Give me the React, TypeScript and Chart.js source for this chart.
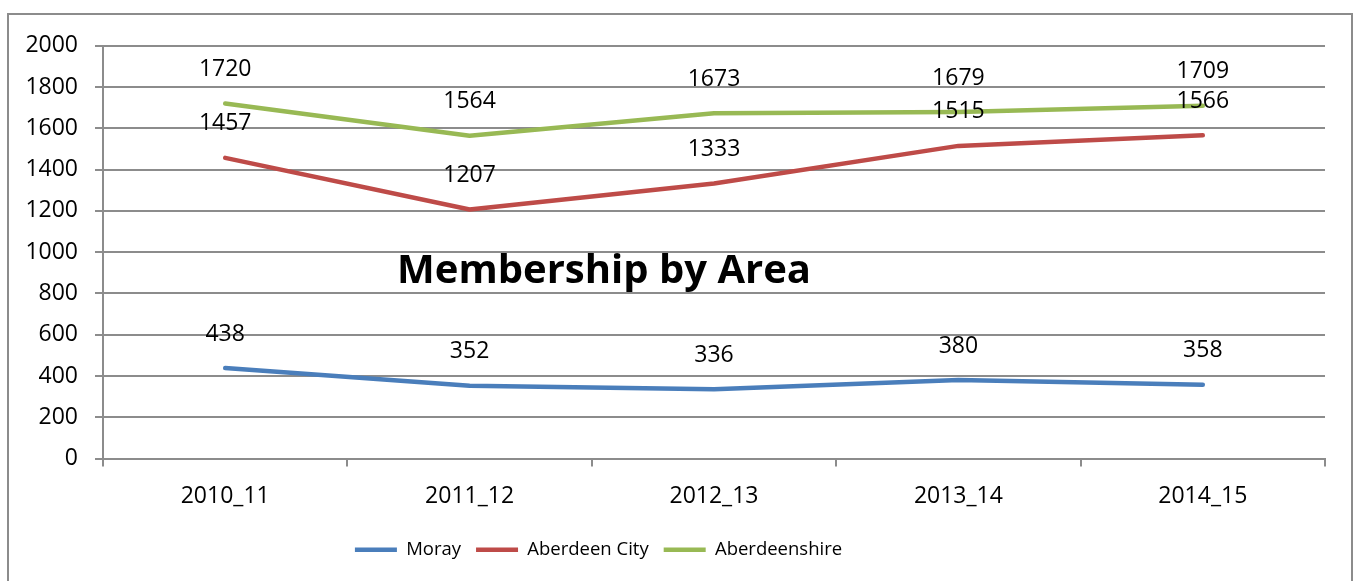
import React, { useEffect, useRef } from 'react';
import { Chart, registerables } from 'chart.js';

Chart.register(...registerables);

const categories = ['2010_11', '2011_12', '2012_13', '2013_14', '2014_15'];
const moray = [438, 352, 336, 380, 358];
const aberdeenCity = [1457, 1207, 1333, 1515, 1566];
const aberdeenshire = [1720, 1564, 1673, 1679, 1709];
const seriesNames = ['Moray', 'Aberdeen City', 'Aberdeenshire'];
const seriesColors = ['#4A7EBB', '#BE4B48', '#98B954'];
const yTickMin = 0;
const yTickMax = 2000;
const yTickStep = 200;
const chartTitle = 'Membership by Area';

const FONT = "'Open Sans', sans-serif";
const GRID = '#8c8c8c';

const titlePlugin = {
  id: 'innerTitle',
  afterDatasetsDraw(chart: any) {
    const { ctx, chartArea: ca } = chart;
    ctx.save();
    ctx.font = `bold 40px ${FONT}`;
    ctx.fillStyle = '#000';
    ctx.textAlign = 'center';
    ctx.textBaseline = 'middle';
    ctx.fillText(chartTitle, ca.left + 0.41 * (ca.right - ca.left), ca.top + 0.547 * (ca.bottom - ca.top));
    ctx.restore();
  },
};

const dataLabelPlugin = {
  id: 'dataLabels',
  afterDatasetsDraw(chart: any) {
    const { ctx } = chart;
    ctx.save();
    ctx.font = `23px ${FONT}`;
    ctx.fillStyle = '#000';
    ctx.textAlign = 'center';
    ctx.textBaseline = 'middle';
    chart.data.datasets.forEach((ds: any, i: number) => {
      const meta = chart.getDatasetMeta(i);
      meta.data.forEach((pt: any, j: number) => {
        ctx.fillText(String(ds.data[j]), pt.x, pt.y - 34);
      });
    });
    ctx.restore();
  },
};

const legendShiftPlugin = {
  id: 'legendShift',
  afterLayout(chart: any) {
    const lg = chart.legend;
    const ca = chart.chartArea;
    if (!lg || !ca) return;
    const target = ca.left + 0.4055 * (ca.right - ca.left);
    const delta = target - (lg.left + lg.right) / 2;
    lg.left += delta;
    lg.right += delta;
  },
};

export default function App() {
  const ref = useRef<HTMLCanvasElement>(null);

  useEffect(() => {
    const values = [moray, aberdeenCity, aberdeenshire];
    const chart = new Chart(ref.current as HTMLCanvasElement, {
      type: 'line',
      data: {
        labels: categories,
        datasets: values.map((v, i) => ({
          label: seriesNames[i],
          data: v,
          borderColor: seriesColors[i],
          backgroundColor: seriesColors[i],
          borderWidth: 4.5,
          borderCapStyle: 'round',
          borderJoinStyle: 'round',
          pointRadius: 0,
          tension: 0,
          fill: false,
        })),
      },
      options: {
        animation: false,
        responsive: true,
        maintainAspectRatio: false,
        devicePixelRatio: 1,
        events: [],
        layout: { padding: { left: 0, right: 26, top: 26, bottom: 12 } },
        scales: {
          x: {
            offset: true,
            grid: {
              offset: true,
              drawOnChartArea: false,
              drawTicks: true,
              tickLength: 8,
              color: GRID,
              lineWidth: 2,
            },
            border: { display: true, color: GRID, width: 2 },
            ticks: { font: { family: FONT, size: 23 }, color: '#000', padding: 16, maxRotation: 0 },
            afterFit: (s: any) => {
              s.height = 67;
            },
          },
          y: {
            min: yTickMin,
            max: yTickMax,
            ticks: {
              stepSize: yTickStep,
              font: { family: FONT, size: 23 },
              color: '#000',
              padding: 17,
              callback: (v: any) => String(v),
            },
            grid: { color: GRID, lineWidth: 2, tickLength: 8 },
            border: { display: true, color: GRID, width: 2 },
            afterFit: (s: any) => {
              s.width = 94;
            },
          },
        },
        plugins: {
          tooltip: { enabled: false },
          title: { display: false },
          legend: {
            position: 'bottom',
            labels: {
              usePointStyle: true,
              pointStyle: 'line',
              pointStyleWidth: 42,
              font: { family: FONT, size: 18.5 },
              color: '#000',
              padding: 15,
            },
          },
        },
      },
      plugins: [titlePlugin, dataLabelPlugin, legendShiftPlugin],
    } as any);
    return () => chart.destroy();
  }, []);

  return (
    <div
      style={{
        position: 'absolute',
        left: 7,
        top: 13,
        width: 1346,
        height: 600,
        border: `2px solid ${GRID}`,
        boxSizing: 'border-box',
        background: '#fff',
      }}
    >
      <div style={{ position: 'relative', width: 1342, height: 566 }}>
        <canvas ref={ref} />
      </div>
    </div>
  );
}
